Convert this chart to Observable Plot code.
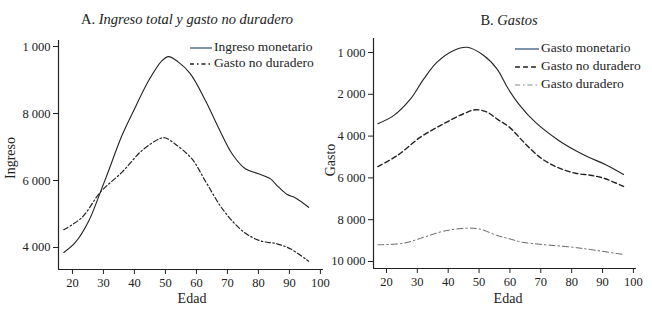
<!DOCTYPE html>
<html><head><meta charset="utf-8">
<script src="https://cdn.jsdelivr.net/npm/d3@7"></script>
<script src="https://cdn.jsdelivr.net/npm/@observablehq/plot@0.6"></script>
<style>
body{margin:0;background:#fff;font-family:"Liberation Serif",serif;color:#222;}
#wrap{position:relative;width:652px;height:310px;overflow:hidden;}
.panel{position:absolute;top:0;}
.title{position:absolute;font-size:14.5px;white-space:nowrap;transform:translate(-50%,-50%);}
.lab{position:absolute;font-size:14px;white-space:nowrap;transform:translate(-50%,-50%);}
.rot{transform:translate(-50%,-50%) rotate(-90deg);}
.legend{position:absolute;font-size:13.5px;line-height:1;width:140px;}
.legend svg{position:absolute;}
.legend span{position:absolute;transform:translateY(-50%);white-space:nowrap;}
</style>
</head><body>
<div id="wrap"></div>
<script>
// ---- Data ----
const xTicks = [20, 30, 40, 50, 60, 70, 80, 90, 100];

// Panel A
const aYTicks = [10000, 8000, 6000, 4000];
const aYLabels = ["1 000", "8 000", "6 000", "4 000"];
const ingresoAges = [17.2, 21, 25.3, 29, 31.7, 36, 40.3, 44.6, 48.9, 51, 54, 58, 62.9, 67, 71.5, 75.8, 80, 83.9, 86, 89.3, 92, 96.2];
const ingresoVals = [3850, 4160, 4800, 5650, 6300, 7350, 8190, 8985, 9580, 9700, 9550, 9190, 8390, 7600, 6800, 6350, 6200, 6050, 5850, 5580, 5480, 5200];
const noDurAAges = [17.2, 23.1, 29, 36, 42.5, 48.4, 50, 53, 58.5, 63.4, 68.8, 75.3, 80.6, 86, 90.3, 96.2];
const noDurAVals = [4530, 4900, 5650, 6250, 6900, 7260, 7270, 7100, 6650, 5900, 5100, 4460, 4200, 4110, 3960, 3590];

// Panel B
const bYTicks = [12000, 10000, 8000, 6000, 4000, 2000];
const bYLabels = ["1 000", "2 000", "4 000", "6 000", "8 000", "10 000"];
const monAges = [17.2, 22.4, 27.8, 32.1, 36.4, 41.8, 46.1, 51.5, 55.8, 59.3, 62.8, 68.2, 75.8, 81.2, 85.5, 90.9, 96.8];
const monVals = [8590, 8990, 9780, 10740, 11540, 12100, 12250, 11860, 11220, 10300, 9545, 8665, 7790, 7310, 6990, 6640, 6160];
const noDurBAges = [17.2, 23.5, 31, 38.5, 45, 48.8, 52.6, 56, 59.8, 65, 70.4, 75.8, 81.2, 86.6, 90.9, 96.8];
const noDurBVals = [6545, 7070, 7950, 8590, 9070, 9260, 9145, 8800, 8430, 7630, 6910, 6480, 6225, 6115, 5960, 5590];
const durAges = [17.2, 25.6, 32.1, 38.5, 46.1, 50.4, 55.8, 59.5, 63.9, 70.4, 80.1, 86.6, 96.8];
const durVals = [2800, 2875, 3160, 3450, 3595, 3545, 3245, 3100, 2925, 2815, 2685, 2560, 2335];

const toRows = (ages, vals) => ages.map((a, i) => ({edad: a, v: vals[i]}));

const wrap = document.getElementById("wrap");
const FONT = "Liberation Serif";
const ink = "#222";

function panel({xDomain, yDomain, marginLeft, marginRight, marginTop, marginBottom, yTicks, yLabels, series}) {
  const labMap = new Map(yTicks.map((t, i) => [t, yLabels[i]]));
  return Plot.plot({
    width: 326, height: 310,
    marginLeft, marginRight, marginTop, marginBottom,
    style: {fontFamily: FONT, fontSize: "12.5px", background: "transparent", color: ink, overflow: "visible"},
    x: {domain: xDomain, axis: null},
    y: {domain: yDomain, axis: null},
    marks: [
      Plot.axisX({ticks: xTicks, tickSize: 5, tickPadding: 4, label: null, tickFormat: d => String(d), stroke: ink}),
      Plot.axisY({ticks: yTicks, tickSize: 5, tickPadding: 3, label: null, tickFormat: d => labMap.get(d), stroke: ink}),
      Plot.ruleX([xDomain[0]], {stroke: ink, strokeWidth: 1.2}),
      Plot.ruleY([yDomain[0]], {stroke: ink, strokeWidth: 1.2}),
      ...series.map(s => Plot.line(s.data, {x: "edad", y: "v", curve: "catmull-rom", stroke: s.stroke, strokeWidth: s.width, strokeDasharray: s.dash}))
    ]
  });
}

const svgA = panel({
  xDomain: [15.5, 101], yDomain: [3343, 10180],
  marginLeft: 58, marginRight: 3, marginTop: 40, marginBottom: 41,
  yTicks: aYTicks, yLabels: aYLabels,
  series: [
    {data: toRows(ingresoAges, ingresoVals), stroke: ink, width: 1.1, dash: null},
    {data: toRows(noDurAAges, noDurAVals), stroke: ink, width: 1.2, dash: "5,2.5,1.5,2.5"}
  ]
});
svgA.classList.add("panel"); svgA.style.left = "0px";
wrap.appendChild(svgA);

const svgB = panel({
  xDomain: [15.8, 101], yDomain: [1665, 12670],
  marginLeft: 47, marginRight: 16, marginTop: 38, marginBottom: 42,
  yTicks: bYTicks, yLabels: bYLabels,
  series: [
    {data: toRows(monAges, monVals), stroke: ink, width: 1.1, dash: null},
    {data: toRows(noDurBAges, noDurBVals), stroke: ink, width: 1.4, dash: "5,3"},
    {data: toRows(durAges, durVals), stroke: "#666", width: 1, dash: "6,3,1.5,3"}
  ]
});
svgB.classList.add("panel"); svgB.style.left = "326px";
wrap.appendChild(svgB);

// ---- Titles and axis labels ----
function addDiv(cls, html, x, y) {
  const d = document.createElement("div");
  d.className = cls; d.innerHTML = html;
  d.style.left = x + "px"; d.style.top = y + "px";
  wrap.appendChild(d);
}
addDiv("title", "A. <i>Ingreso total y gasto no duradero</i>", 187, 19);
addDiv("title", "B. <i>Gastos</i>", 509, 20);
addDiv("lab", "Edad", 192, 299);
addDiv("lab", "Edad", 508, 299);
addDiv("lab rot", "Ingreso", 11, 158);
addDiv("lab rot", "Gasto", 331, 160);

// ---- Legends ----
function legend(items, x0, lineW, ys) {
  const g = document.createElement("div");
  g.className = "legend"; g.style.left = x0 + "px"; g.style.top = "0px";
  items.forEach((it, i) => {
    const s = document.createElementNS("http://www.w3.org/2000/svg", "svg");
    s.setAttribute("width", lineW); s.setAttribute("height", 6);
    s.style.left = "0px"; s.style.top = (ys[i] - 3) + "px";
    const l = document.createElementNS("http://www.w3.org/2000/svg", "line");
    l.setAttribute("x1", 0); l.setAttribute("x2", lineW); l.setAttribute("y1", 3); l.setAttribute("y2", 3);
    l.setAttribute("stroke", it.stroke); l.setAttribute("stroke-width", it.width);
    if (it.dash) l.setAttribute("stroke-dasharray", it.dash);
    s.appendChild(l); g.appendChild(s);
    const t = document.createElement("span");
    t.textContent = it.label; t.style.left = (lineW + 2) + "px"; t.style.top = (ys[i] - 1) + "px";
    g.appendChild(t);
  });
  wrap.appendChild(g);
}
legend([
  {label: "Ingreso monetario", stroke: "#4f6f8f", width: 1.5},
  {label: "Gasto no duradero", stroke: ink, width: 1.3, dash: "4,3,1.5,3"}
], 190, 22, [48, 64]);
legend([
  {label: "Gasto monetario", stroke: "#4f6f8f", width: 1.5},
  {label: "Gasto no duradero", stroke: ink, width: 1.5, dash: "5,3"},
  {label: "Gasto duradero", stroke: "#888", width: 1, dash: "5,3,1.5,3"}
], 515, 24, [49, 67, 85]);
</script>
</body></html>
